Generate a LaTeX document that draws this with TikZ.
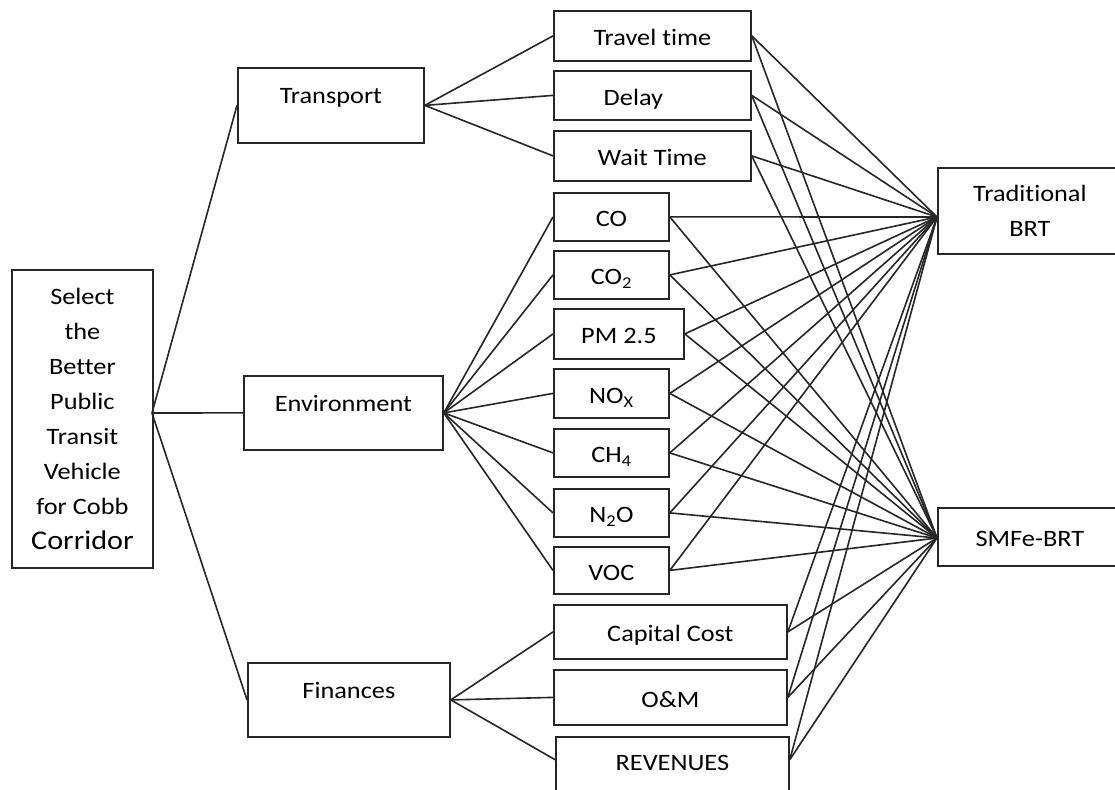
\documentclass[tikz,border=0pt]{standalone}
\usepackage{fontspec}
\setmainfont{Carlito}[FakeStretch=1.12,Ligatures=NoCommon]
\begin{document}
\begin{tikzpicture}[x=1pt,y=-1pt,
  every node/.style={font=\fontsize{23.5}{35}\selectfont},
  bx/.style={draw=black!85, line width=1.8pt, inner sep=0pt, anchor=north west},
  sub/.style={bx, text height=22pt, text depth=2pt},
  crit/.style={bx, text height=10pt, text depth=13pt},
  conn/.style={draw=black!85, line width=1.6pt}]
\useasboundingbox (0,0) rectangle (1115,789);
% goal
\node[bx, align=center, minimum width=141pt, minimum height=298pt] (goal) at (11,269)
  {Select\\the\\Better\\Public\\Transit\\Vehicle\\for Cobb\\{\fontsize{27}{35}\selectfont Corridor}};
% criteria
\node[crit, minimum width=186pt, minimum height=75pt] (transport) at (237,67) {Transport};
\node[crit, minimum width=199pt, minimum height=74pt] (env) at (243,375) {Environment};
\node[crit, minimum width=202pt, minimum height=74pt] (fin) at (247,662) {Finances};
% sub-criteria
\node[sub, minimum width=197pt, minimum height=50pt] (travel) at (553,10) {Travel time};
\node[sub, minimum width=197pt, minimum height=49pt] (delay) at (553,70) {Delay\hspace*{38pt}};
\node[sub, minimum width=197pt, minimum height=50pt] (wait) at (553,130) {Wait Time};
\node[sub, minimum width=115pt, minimum height=48pt] (co) at (553,192) {CO};
\node[sub, minimum width=115pt, minimum height=48pt] (co2) at (553,250) {CO\textsubscript{2}};
\node[sub, minimum width=130pt, minimum height=50pt] (pm) at (553,308) {PM 2.5};
\node[sub, minimum width=115pt, minimum height=49pt] (nox) at (553,368) {NO\textsubscript{X}};
\node[sub, minimum width=115pt, minimum height=48pt] (ch4) at (553,428) {CH\textsubscript{4}};
\node[sub, minimum width=115pt, minimum height=48pt] (n2o) at (553,488) {N\textsubscript{2}O};
\node[sub, minimum width=115pt, minimum height=47pt] (voc) at (553,546) {VOC};
\node[sub, minimum width=233pt, minimum height=54pt] (cap) at (553,604) {Capital Cost};
\node[sub, minimum width=233pt, minimum height=55pt] (om) at (553,669) {O\&M};
\node[bx, text height=16pt, text depth=14pt, minimum width=233pt, minimum height=66pt] (rev) at (555,736) {REVENUES};
% alternatives
\node[bx, align=center, minimum width=184pt, minimum height=86pt] (trad) at (937,167) {Traditional\\BRT};
\node[sub, minimum width=184pt, minimum height=58pt] (smfe) at (937,507) {SMFe-BRT};
% connection points
\coordinate (gout) at (152,413);
\coordinate (tin) at (937,217);
\coordinate (sin) at (937,538);
% connectors
\foreach \n in {transport,env,fin} \draw[conn] (gout) -- (\n.west);
\foreach \n in {travel,delay,wait} \draw[conn] (transport.east) -- (\n.west);
\foreach \n in {co,co2,pm,nox,ch4,n2o,voc} \draw[conn] (env.east) -- (\n.west);
\draw[conn] (fin.east) -- (cap.west);
\draw[conn] (fin.east) -- (om.west);
\draw[conn] (fin.east) -- (rev.175);
\foreach \n in {travel,delay,wait,co,co2,pm,nox,ch4,n2o,voc,cap,om} {
  \draw[conn] (\n.east) -- (tin);
  \draw[conn] (\n.east) -- (sin);
}
\draw[conn] (rev.5) -- (tin);
\draw[conn] (rev.5) -- (sin);
\end{tikzpicture}
\end{document}
